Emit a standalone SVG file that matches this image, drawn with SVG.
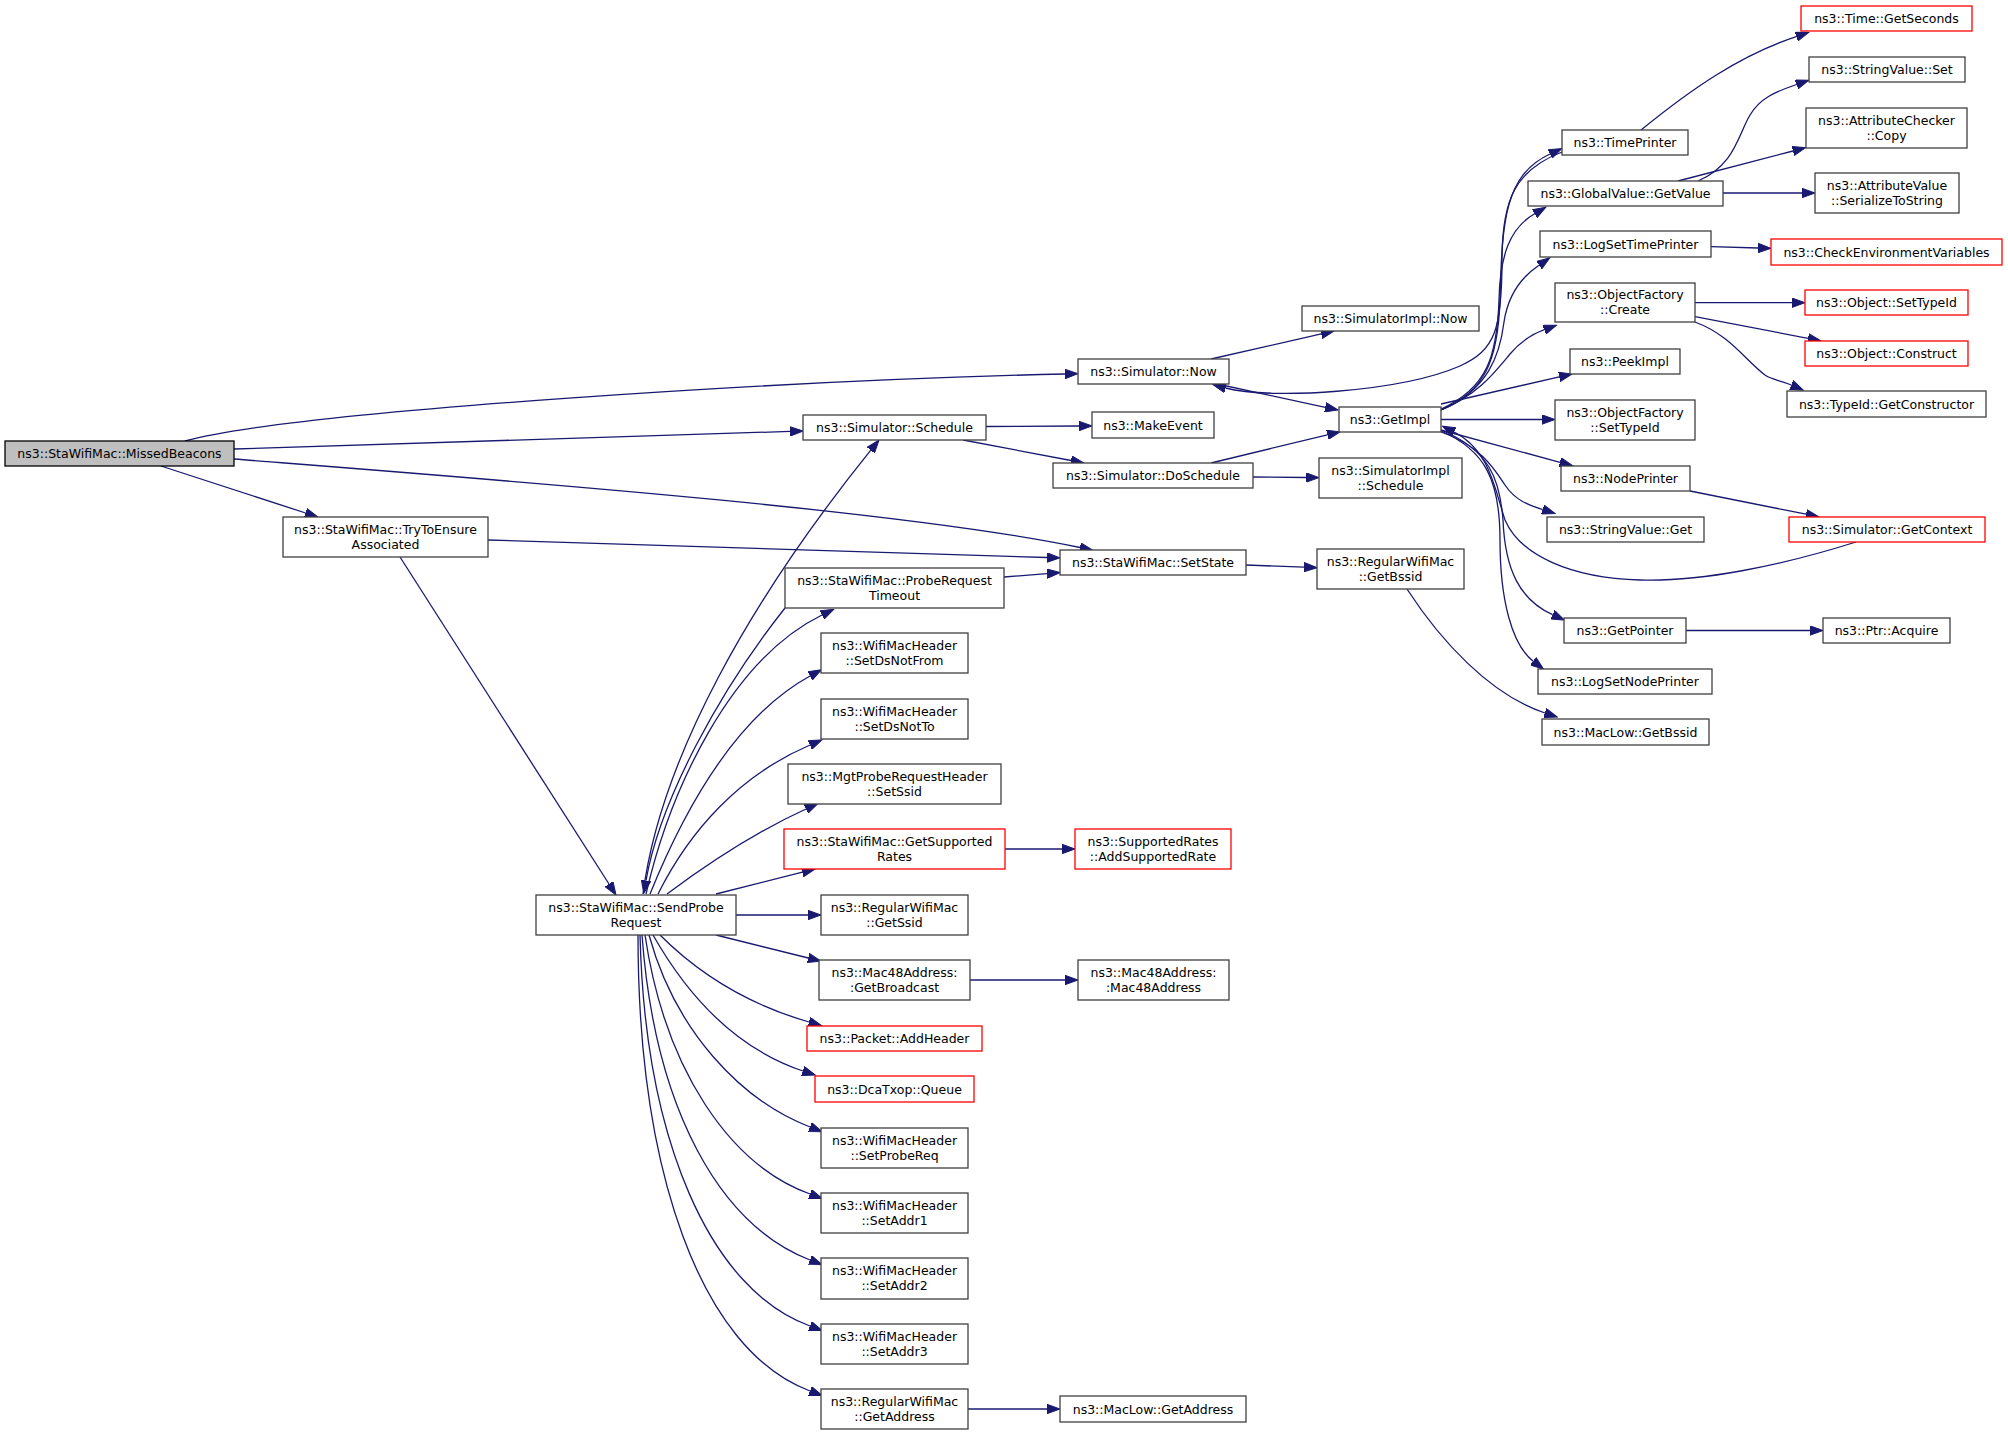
<svg xmlns="http://www.w3.org/2000/svg" width="2008" height="1435" viewBox="0 0 2008 1435">
<defs>
<marker id="ah" markerUnits="userSpaceOnUse" markerWidth="14" markerHeight="10" viewBox="0 0 14 10" refX="0" refY="5" orient="auto"><path d="M0,0.3 L13,5 L0,9.7 z" fill="#191970" stroke="#191970" stroke-width="1"/></marker>
</defs>
<style>
.n rect{fill:#ffffff;stroke:#404040;stroke-width:1.3}
.r rect{fill:#ffffff;stroke:#ff0000;stroke-width:1.3}
.root rect{fill:#bfbfbf;stroke:#000000;stroke-width:1.3}
text{font-family:"DejaVu Sans","Liberation Sans",sans-serif;font-size:12.5px;fill:#000000;text-anchor:middle}
#edges path{fill:none;stroke:#191970;stroke-width:1.3;marker-end:url(#ah)}
</style>
<rect width="2008" height="1435" fill="#ffffff"/>
<g id="edges">
<path d="M185,441 C300,410 800,380 1065,374"/>
<path d="M234,449 C450,442 650,435 790,431.4"/>
<path d="M234,459 C500,480 900,510 1080,547.5"/>
<path d="M161,466 L305.6,513"/>
<path d="M488,540 C700,546 900,553 1047,557.5"/>
<path d="M400,557 L609,884"/>
<path d="M643,894 C660,760 750,600 870.8,450.2"/>
<path d="M646,894 C670,790 730,660 822,615"/>
<path d="M785,608 C720,690 660,800 646,880.6"/>
<path d="M650,894 C680,820 730,720 810,676"/>
<path d="M658,894 C690,830 740,775 810,745"/>
<path d="M667,894 C710,862 760,830 806,809"/>
<path d="M716,894 L802.4,872.2"/>
<path d="M736,915 L808,915"/>
<path d="M716,935 L808.3,958"/>
<path d="M660,935 C700,975 750,1005 809,1022"/>
<path d="M653,935 C690,1000 740,1050 803,1071"/>
<path d="M649,935 C675,1030 740,1100 810,1127"/>
<path d="M645,935 C665,1070 730,1165 810,1194"/>
<path d="M642,935 C655,1110 720,1225 810,1260"/>
<path d="M640,935 C645,1140 710,1290 810,1326"/>
<path d="M638,935 C638,1170 700,1350 810,1391"/>
<path d="M1004,577 L1047,573.6"/>
<path d="M1246,565 L1304,567.2"/>
<path d="M1407,589 C1440,640 1490,695 1545,713"/>
<path d="M1004,849 L1062,849"/>
<path d="M970,980 L1065,980"/>
<path d="M968,1409 L1047,1409"/>
<path d="M986,426.5 L1079,426"/>
<path d="M963,440 L1071,460.5"/>
<path d="M1211,463 L1327.4,434.8"/>
<path d="M1253,477 L1306,477.5"/>
<path d="M1211,359 L1321.3,333.9"/>
<path d="M1222,385 L1325.3,407.3"/>
<path d="M1562,152 C1515,170 1502,200 1502,260 C1502,330 1495,350 1460,366 C1400,392 1270,400 1225.5,388"/>
<path d="M1441,410 C1485,392 1498,360 1500,300 C1502,220 1505,175 1550,154"/>
<path d="M1441,409 C1488,388 1497,355 1499,300 C1500,255 1510,228 1534.6,213.7"/>
<path d="M1441,410 C1488,390 1500,355 1504,322 C1508,295 1520,278 1539,265.2"/>
<path d="M1441,410 C1478,395 1495,372 1510,354 C1520,342 1530,335 1544.3,329.7"/>
<path d="M1441,404 L1559.3,376.9"/>
<path d="M1441,419.5 L1542,419.5"/>
<path d="M1441,430 L1560,462.3"/>
<path d="M1441,432 C1480,445 1495,470 1505,485 C1515,500 1528,505 1542.7,509.6"/>
<path d="M1441,430 C1490,450 1500,480 1503,520 C1505,570 1520,600 1552.6,614.7"/>
<path d="M1441,431 C1485,450 1500,480 1500,540 C1500,600 1512,645 1533.2,661.2"/>
<path d="M1856,542 C1780,566 1700,582 1640,580 C1570,578 1520,555 1505,520 C1495,490 1490,450 1454,432"/>
<path d="M1690,491 L1806,514.2"/>
<path d="M1686,630.5 L1810,630.5"/>
<path d="M1641,130 C1690,90 1740,55 1796.3,36.6"/>
<path d="M1698,181 C1735,165 1738,135 1750,115 C1760,98 1775,92 1796.5,84.5"/>
<path d="M1678,181 L1793,151"/>
<path d="M1723,193 L1802,193"/>
<path d="M1711,246.7 L1758,248"/>
<path d="M1695,302.7 L1792,302.7"/>
<path d="M1695,316.7 L1808,338.3"/>
<path d="M1695,322 C1730,335 1745,360 1765,375 C1772,380 1780,380 1791.4,385"/>
</g>
<g id="n_missedbeacons" class="root"><rect x="5" y="441" width="229" height="25"/><text x="119.5" y="458">ns3::StaWifiMac::MissedBeacons</text></g>
<g id="n_trytoensure" class="n"><rect x="283" y="517" width="205" height="40"/><text x="385.5" y="533.5">ns3::StaWifiMac::TryToEnsure</text><text x="385.5" y="548.5">Associated</text></g>
<g id="n_sendprobe" class="n"><rect x="536" y="895" width="200" height="40"/><text x="636" y="911.5">ns3::StaWifiMac::SendProbe</text><text x="636" y="926.5">Request</text></g>
<g id="n_schedule" class="n"><rect x="803" y="415" width="183" height="25"/><text x="894.5" y="432">ns3::Simulator::Schedule</text></g>
<g id="n_probetimeout" class="n"><rect x="785" y="568" width="219" height="40"/><text x="894.5" y="584.5">ns3::StaWifiMac::ProbeRequest</text><text x="894.5" y="599.5">Timeout</text></g>
<g id="n_setdsnotfrom" class="n"><rect x="821" y="633" width="147" height="40"/><text x="894.5" y="649.5">ns3::WifiMacHeader</text><text x="894.5" y="664.5">::SetDsNotFrom</text></g>
<g id="n_setdsnotto" class="n"><rect x="821" y="699" width="147" height="40"/><text x="894.5" y="715.5">ns3::WifiMacHeader</text><text x="894.5" y="730.5">::SetDsNotTo</text></g>
<g id="n_mgtsetssid" class="n"><rect x="788" y="764" width="213" height="40"/><text x="894.5" y="780.5">ns3::MgtProbeRequestHeader</text><text x="894.5" y="795.5">::SetSsid</text></g>
<g id="n_getsupportedrates" class="r"><rect x="784" y="829" width="221" height="40"/><text x="894.5" y="845.5">ns3::StaWifiMac::GetSupported</text><text x="894.5" y="860.5">Rates</text></g>
<g id="n_getssid" class="n"><rect x="821" y="895" width="147" height="40"/><text x="894.5" y="911.5">ns3::RegularWifiMac</text><text x="894.5" y="926.5">::GetSsid</text></g>
<g id="n_getbroadcast" class="n"><rect x="819" y="960" width="151" height="40"/><text x="894.5" y="976.5">ns3::Mac48Address:</text><text x="894.5" y="991.5">:GetBroadcast</text></g>
<g id="n_addheader" class="r"><rect x="807" y="1026" width="175" height="25"/><text x="894.5" y="1043">ns3::Packet::AddHeader</text></g>
<g id="n_queue" class="r"><rect x="815" y="1076" width="159" height="26"/><text x="894.5" y="1093.5">ns3::DcaTxop::Queue</text></g>
<g id="n_setprobereq" class="n"><rect x="821" y="1128" width="147" height="40"/><text x="894.5" y="1144.5">ns3::WifiMacHeader</text><text x="894.5" y="1159.5">::SetProbeReq</text></g>
<g id="n_setaddr1" class="n"><rect x="821" y="1193" width="147" height="40"/><text x="894.5" y="1209.5">ns3::WifiMacHeader</text><text x="894.5" y="1224.5">::SetAddr1</text></g>
<g id="n_setaddr2" class="n"><rect x="821" y="1258" width="147" height="41"/><text x="894.5" y="1275">ns3::WifiMacHeader</text><text x="894.5" y="1290">::SetAddr2</text></g>
<g id="n_setaddr3" class="n"><rect x="821" y="1324" width="147" height="40"/><text x="894.5" y="1340.5">ns3::WifiMacHeader</text><text x="894.5" y="1355.5">::SetAddr3</text></g>
<g id="n_getaddress" class="n"><rect x="821" y="1389" width="147" height="40"/><text x="894.5" y="1405.5">ns3::RegularWifiMac</text><text x="894.5" y="1420.5">::GetAddress</text></g>
<g id="n_now" class="n"><rect x="1078" y="359" width="151" height="25"/><text x="1153.5" y="376">ns3::Simulator::Now</text></g>
<g id="n_makeevent" class="n"><rect x="1092" y="412" width="122" height="26"/><text x="1153" y="429.5">ns3::MakeEvent</text></g>
<g id="n_doschedule" class="n"><rect x="1053" y="463" width="200" height="25"/><text x="1153" y="480">ns3::Simulator::DoSchedule</text></g>
<g id="n_setstate" class="n"><rect x="1060" y="550" width="186" height="25"/><text x="1153" y="567">ns3::StaWifiMac::SetState</text></g>
<g id="n_addsupportedrate" class="r"><rect x="1075" y="829" width="156" height="40"/><text x="1153" y="845.5">ns3::SupportedRates</text><text x="1153" y="860.5">::AddSupportedRate</text></g>
<g id="n_mac48address" class="n"><rect x="1078" y="960" width="151" height="40"/><text x="1153.5" y="976.5">ns3::Mac48Address:</text><text x="1153.5" y="991.5">:Mac48Address</text></g>
<g id="n_maclowgetaddress" class="n"><rect x="1060" y="1396" width="186" height="26"/><text x="1153" y="1413.5">ns3::MacLow::GetAddress</text></g>
<g id="n_simimplnow" class="n"><rect x="1302" y="306" width="177" height="25"/><text x="1390.5" y="323">ns3::SimulatorImpl::Now</text></g>
<g id="n_getimpl" class="n"><rect x="1339" y="407" width="102" height="25"/><text x="1390" y="424">ns3::GetImpl</text></g>
<g id="n_simimplschedule" class="n"><rect x="1319" y="458" width="143" height="40"/><text x="1390.5" y="474.5">ns3::SimulatorImpl</text><text x="1390.5" y="489.5">::Schedule</text></g>
<g id="n_regulargetbssid" class="n"><rect x="1317" y="549" width="147" height="40"/><text x="1390.5" y="565.5">ns3::RegularWifiMac</text><text x="1390.5" y="580.5">::GetBssid</text></g>
<g id="n_timeprinter" class="n"><rect x="1562" y="130" width="126" height="25"/><text x="1625" y="147">ns3::TimePrinter</text></g>
<g id="n_getvalue" class="n"><rect x="1528" y="181" width="195" height="25"/><text x="1625.5" y="198">ns3::GlobalValue::GetValue</text></g>
<g id="n_logsettimeprinter" class="n"><rect x="1540" y="231" width="171" height="26"/><text x="1625.5" y="248.5">ns3::LogSetTimePrinter</text></g>
<g id="n_ofcreate" class="n"><rect x="1555" y="283" width="140" height="39"/><text x="1625" y="299">ns3::ObjectFactory</text><text x="1625" y="314">::Create</text></g>
<g id="n_peekimpl" class="n"><rect x="1570" y="349" width="110" height="25"/><text x="1625" y="366">ns3::PeekImpl</text></g>
<g id="n_ofsettypeid" class="n"><rect x="1555" y="400" width="140" height="40"/><text x="1625" y="416.5">ns3::ObjectFactory</text><text x="1625" y="431.5">::SetTypeId</text></g>
<g id="n_nodeprinter" class="n"><rect x="1561" y="466" width="129" height="25"/><text x="1625.5" y="483">ns3::NodePrinter</text></g>
<g id="n_stringvalueget" class="n"><rect x="1547" y="517" width="157" height="25"/><text x="1625.5" y="534">ns3::StringValue::Get</text></g>
<g id="n_getpointer" class="n"><rect x="1564" y="618" width="122" height="25"/><text x="1625" y="635">ns3::GetPointer</text></g>
<g id="n_logsetnodeprinter" class="n"><rect x="1538" y="669" width="174" height="25"/><text x="1625" y="686">ns3::LogSetNodePrinter</text></g>
<g id="n_maclowgetbssid" class="n"><rect x="1542" y="719" width="167" height="26"/><text x="1625.5" y="736.5">ns3::MacLow::GetBssid</text></g>
<g id="n_getseconds" class="r"><rect x="1801" y="6" width="171" height="25"/><text x="1886.5" y="23">ns3::Time::GetSeconds</text></g>
<g id="n_stringvalueset" class="n"><rect x="1809" y="57" width="156" height="25"/><text x="1887" y="74">ns3::StringValue::Set</text></g>
<g id="n_checkercopy" class="n"><rect x="1806" y="108" width="161" height="40"/><text x="1886.5" y="124.5">ns3::AttributeChecker</text><text x="1886.5" y="139.5">::Copy</text></g>
<g id="n_serialize" class="n"><rect x="1815" y="173" width="144" height="40"/><text x="1887" y="189.5">ns3::AttributeValue</text><text x="1887" y="204.5">::SerializeToString</text></g>
<g id="n_checkenv" class="r"><rect x="1771" y="239" width="231" height="26"/><text x="1886.5" y="256.5">ns3::CheckEnvironmentVariables</text></g>
<g id="n_objsettypeid" class="r"><rect x="1805" y="290" width="163" height="25"/><text x="1886.5" y="307">ns3::Object::SetTypeId</text></g>
<g id="n_objconstruct" class="r"><rect x="1805" y="341" width="163" height="25"/><text x="1886.5" y="358">ns3::Object::Construct</text></g>
<g id="n_getconstructor" class="n"><rect x="1787" y="391" width="199" height="26"/><text x="1886.5" y="408.5">ns3::TypeId::GetConstructor</text></g>
<g id="n_getcontext" class="r"><rect x="1789" y="517" width="196" height="25"/><text x="1887" y="534">ns3::Simulator::GetContext</text></g>
<g id="n_ptracquire" class="n"><rect x="1823" y="618" width="127" height="25"/><text x="1886.5" y="635">ns3::Ptr::Acquire</text></g>
</svg>
